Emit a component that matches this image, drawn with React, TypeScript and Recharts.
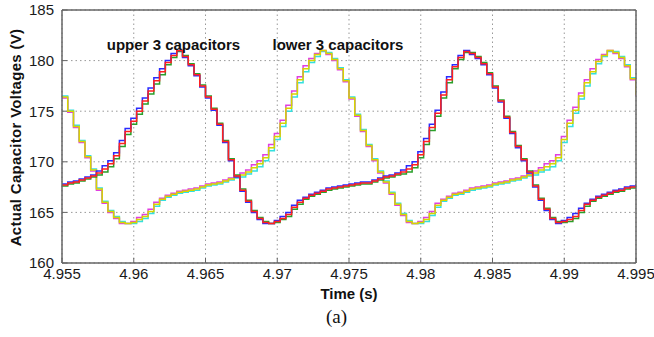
import React from "react";
import { LineChart, Line, XAxis, YAxis, CartesianGrid, ReferenceDot, Label } from "recharts";

// sample times (s)
const time = [
  4.955, 4.9554, 4.9558, 4.9562, 4.9566, 4.957, 4.9574, 4.9578, 4.9582, 4.9586,
  4.959, 4.9594, 4.9598, 4.9602, 4.9606, 4.961, 4.9614, 4.9618, 4.9622, 4.9626,
  4.963, 4.9634, 4.9638, 4.9642, 4.9646, 4.965, 4.9654, 4.9658, 4.9662, 4.9666,
  4.967, 4.9674, 4.9678, 4.9682, 4.9686, 4.969, 4.9694, 4.9698, 4.9702, 4.9706,
  4.971, 4.9714, 4.9718, 4.9722, 4.9726, 4.973, 4.9734, 4.9738, 4.9742, 4.9746,
  4.975, 4.9754, 4.9758, 4.9762, 4.9766, 4.977, 4.9774, 4.9778, 4.9782, 4.9786,
  4.979, 4.9794, 4.9798, 4.9802, 4.9806, 4.981, 4.9814, 4.9818, 4.9822, 4.9826,
  4.983, 4.9834, 4.9838, 4.9842, 4.9846, 4.985, 4.9854, 4.9858, 4.9862, 4.9866,
  4.987, 4.9874, 4.9878, 4.9882, 4.9886, 4.989, 4.9894, 4.9898, 4.9902, 4.9906,
  4.991, 4.9914, 4.9918, 4.9922, 4.9926, 4.993, 4.9934, 4.9938, 4.9942, 4.9946,
  4.995,
];

// upper 3 capacitors (V)
const upperRed = [
  167.7, 167.9, 168.0, 168.2, 168.4, 168.6, 168.9, 169.3, 169.8, 170.6,
  171.8, 173.0, 174.0, 175.0, 176.0, 177.0, 178.0, 178.9, 179.8, 180.5,
  181.0, 180.4, 179.6, 178.6, 177.5, 176.4, 175.2, 173.7, 172.0, 170.2,
  168.6, 167.2, 166.1, 165.1, 164.4, 164.0, 163.9, 164.1, 164.4, 164.8,
  165.5, 166.0, 166.4, 166.7, 166.9, 167.1, 167.3, 167.4, 167.5, 167.6,
  167.7, 167.8, 167.9, 167.9, 168.1, 168.3, 168.5, 168.6, 168.8, 169.0,
  169.3, 169.7, 170.7, 172.0, 173.4, 174.8, 176.6, 178.1, 179.4, 180.3,
  180.9, 180.7, 180.3, 179.7, 178.7, 177.4, 176.0, 174.4, 172.9, 171.5,
  170.2, 169.0, 167.6, 166.3, 165.3, 164.4, 164.0, 164.1, 164.3, 164.6,
  165.2, 165.8, 166.2, 166.5, 166.7, 166.9, 167.1, 167.2, 167.4, 167.5,
  167.7,
];
const upperBlue = [
  167.8, 168.0, 168.1, 168.3, 168.5, 168.7, 169.1, 169.6, 170.1, 170.9,
  172.1, 173.3, 174.3, 175.3, 176.3, 177.3, 178.3, 179.2, 180.0, 180.7,
  181.0, 180.3, 179.5, 178.5, 177.4, 176.3, 175.1, 173.6, 171.9, 170.1,
  168.5, 167.1, 166.0, 165.0, 164.3, 163.9, 163.9, 164.2, 164.6, 165.0,
  165.7, 166.2, 166.5, 166.8, 167.0, 167.2, 167.4, 167.5, 167.6, 167.7,
  167.8, 167.9, 168.0, 168.0, 168.2, 168.4, 168.6, 168.7, 168.9, 169.2,
  169.6, 170.0, 171.0, 172.3, 173.7, 175.1, 176.9, 178.4, 179.6, 180.5,
  181.0, 180.6, 180.2, 179.6, 178.6, 177.3, 175.9, 174.3, 172.8, 171.4,
  170.1, 168.9, 167.5, 166.2, 165.2, 164.3, 163.9, 164.2, 164.5, 164.9,
  165.4, 165.9, 166.3, 166.6, 166.8, 167.0, 167.2, 167.3, 167.5, 167.6,
  167.8,
];
const upperGreen = [
  167.6, 167.8, 167.9, 168.1, 168.3, 168.5, 168.7, 169.0, 169.5, 170.3,
  171.5, 172.7, 173.7, 174.7, 175.7, 176.7, 177.7, 178.6, 179.6, 180.3,
  180.9, 180.5, 179.7, 178.7, 177.6, 176.5, 175.3, 173.8, 172.1, 170.3,
  168.7, 167.3, 166.2, 165.2, 164.5, 164.1, 163.9, 164.0, 164.3, 164.6,
  165.3, 165.8, 166.3, 166.6, 166.8, 167.0, 167.2, 167.3, 167.4, 167.5,
  167.6, 167.7, 167.8, 167.8, 168.0, 168.2, 168.4, 168.5, 168.7, 168.8,
  169.0, 169.4, 170.4, 171.7, 173.1, 174.5, 176.3, 177.8, 179.2, 180.1,
  180.8, 180.8, 180.4, 179.8, 178.8, 177.5, 176.1, 174.5, 173.0, 171.6,
  170.3, 169.1, 167.7, 166.4, 165.4, 164.5, 164.1, 164.0, 164.1, 164.4,
  165.0, 165.6, 166.1, 166.4, 166.6, 166.8, 167.0, 167.1, 167.3, 167.4,
  167.6,
];

// lower 3 capacitors (V)
const lowerYellow = [
  176.4, 175.0, 173.5, 172.0, 170.5, 169.2, 167.3, 166.0, 165.1, 164.5,
  164.0, 163.9, 164.0, 164.3, 164.6, 165.1, 165.8, 166.3, 166.6, 166.8,
  167.0, 167.1, 167.2, 167.3, 167.5, 167.7, 167.8, 167.9, 168.1, 168.3,
  168.5, 168.7, 169.0, 169.4, 169.8, 170.4, 171.4, 172.5, 173.8, 175.3,
  176.7, 178.1, 179.2, 180.0, 180.6, 181.0, 180.7, 180.1, 179.2, 178.0,
  176.3, 174.6, 173.1, 171.6, 170.2, 169.0, 168.0, 166.9, 165.8, 164.8,
  164.1, 163.9, 164.0, 164.3, 164.9, 165.7, 166.2, 166.5, 166.8, 166.9,
  167.1, 167.3, 167.4, 167.5, 167.6, 167.8, 167.9, 168.0, 168.2, 168.3,
  168.5, 168.7, 168.9, 169.2, 169.5, 169.8, 170.4, 172.2, 173.8, 175.1,
  176.5, 177.8, 178.9, 179.9, 180.5, 181.0, 180.8, 180.3, 179.5, 178.2,
  176.6,
];
const lowerMagenta = [
  176.3, 174.9, 173.4, 171.9, 170.4, 169.1, 167.2, 165.9, 165.0, 164.4,
  163.9, 163.9, 164.1, 164.5, 164.8, 165.3, 166.0, 166.4, 166.7, 166.9,
  167.1, 167.2, 167.3, 167.4, 167.6, 167.8, 167.9, 168.0, 168.2, 168.4,
  168.6, 168.9, 169.2, 169.7, 170.1, 170.7, 171.7, 172.8, 174.1, 175.6,
  177.0, 178.4, 179.5, 180.2, 180.7, 181.0, 180.6, 180.0, 179.1, 177.9,
  176.2, 174.5, 173.0, 171.5, 170.1, 168.9, 167.9, 166.8, 165.7, 164.7,
  164.0, 163.9, 164.1, 164.5, 165.1, 165.9, 166.3, 166.6, 166.9, 167.0,
  167.2, 167.4, 167.5, 167.6, 167.7, 167.9, 168.0, 168.1, 168.3, 168.4,
  168.6, 168.8, 169.1, 169.4, 169.8, 170.1, 170.7, 172.5, 174.1, 175.4,
  176.8, 178.1, 179.2, 180.1, 180.6, 181.0, 180.7, 180.2, 179.4, 178.1,
  176.5,
];
const lowerCyan = [
  176.5, 175.1, 173.6, 172.1, 170.6, 169.3, 167.4, 166.1, 165.2, 164.6,
  164.1, 163.9, 163.9, 164.1, 164.4, 164.9, 165.6, 166.2, 166.5, 166.7,
  166.9, 167.0, 167.1, 167.2, 167.4, 167.6, 167.7, 167.8, 168.0, 168.2,
  168.4, 168.5, 168.8, 169.1, 169.5, 170.1, 171.1, 172.2, 173.5, 175.0,
  176.4, 177.8, 178.9, 179.8, 180.4, 180.9, 180.8, 180.2, 179.3, 178.1,
  176.4, 174.7, 173.2, 171.7, 170.3, 169.1, 168.1, 167.0, 165.9, 164.9,
  164.2, 163.9, 163.9, 164.1, 164.7, 165.5, 166.1, 166.4, 166.7, 166.8,
  167.0, 167.2, 167.3, 167.4, 167.5, 167.7, 167.8, 167.9, 168.1, 168.2,
  168.4, 168.6, 168.7, 169.0, 169.2, 169.5, 170.1, 171.9, 173.5, 174.8,
  176.2, 177.5, 178.7, 179.7, 180.4, 180.9, 180.9, 180.4, 179.6, 178.3,
  176.7,
];

const xTicks = [4.955, 4.96, 4.965, 4.97, 4.975, 4.98, 4.985, 4.99, 4.995];
const xTickLabels = ["4.955", "4.96", "4.965", "4.97", "4.975", "4.98", "4.985", "4.99", "4.995"];
const yTicks = [160, 165, 170, 175, 180, 185];

const xDomain: [number, number] = [4.955, 4.995];
const yDomain: [number, number] = [160, 185];

const rows = time.map((t, i) => ({
  t,
  upperRed: upperRed[i],
  upperBlue: upperBlue[i],
  upperGreen: upperGreen[i],
  lowerYellow: lowerYellow[i],
  lowerMagenta: lowerMagenta[i],
  lowerCyan: lowerCyan[i],
}));

const FONT = "'Liberation Sans', Arial, Helvetica, sans-serif";
const axisLine = { stroke: "#666", strokeWidth: 1.5 };
const tickLine = { stroke: "#666", strokeWidth: 1 };

const formatX = (v: number) => {
  const i = xTicks.findIndex((x) => Math.abs(x - v) < 1e-9);
  return i >= 0 ? xTickLabels[i] : String(v);
};

const YLabel = (props: any) => {
  const vb = props.viewBox || { x: 0, y: 0, width: 0, height: 0 };
  const cx = vb.x + 15;
  const cy = vb.y + vb.height / 2 + 1;
  return (
    <text
      x={cx}
      y={cy}
      textAnchor="middle"
      dominantBaseline="central"
      transform={`rotate(-90 ${cx} ${cy})`}
      fontFamily={FONT}
      fontSize={15}
      fontWeight="bold"
      letterSpacing={0.3}
      fill="#111"
    >
      Actual Capacitor Voltages (V)
    </text>
  );
};

export default function App() {
  const lineProps = {
    type: "stepAfter" as const,
    dot: false,
    strokeWidth: 1.5,
    isAnimationActive: false,
  };
  return (
    <div style={{ position: "absolute", left: 0, top: 0, width: 654, height: 337, background: "#fff" }}>
      <LineChart width={654} height={337} data={rows} margin={{ top: 9, right: 17, bottom: 0, left: 0 }}>
        <CartesianGrid stroke="#999" strokeDasharray="1.5 3" />
        <XAxis
          dataKey="t"
          type="number"
          domain={xDomain}
          ticks={xTicks}
          interval={0}
          tickFormatter={formatX}
          height={74}
          axisLine={axisLine}
          tickLine={tickLine}
          tickSize={-5}
          tickMargin={10}
          tick={{ fontFamily: FONT, fontSize: 15, fill: "#1a1a1a" }}
          allowDataOverflow
        >
          <Label
            value="Time (s)"
            position="insideTop"
            offset={25}
            fontFamily={FONT}
            fontSize={15}
            fontWeight="bold"
            fill="#111"
          />
        </XAxis>
        <XAxis
          xAxisId="top"
          orientation="top"
          dataKey="t"
          type="number"
          domain={xDomain}
          ticks={xTicks}
          interval={0}
          height={1}
          axisLine={axisLine}
          tickLine={tickLine}
          tickSize={-5}
          tick={false}
          allowDataOverflow
        />
        <YAxis
          type="number"
          domain={yDomain}
          ticks={yTicks}
          interval={0}
          width={62}
          axisLine={axisLine}
          tickLine={tickLine}
          tickSize={-5}
          tickMargin={13}
          tick={{ fontFamily: FONT, fontSize: 15, fill: "#1a1a1a" }}
          allowDataOverflow
          label={{ content: YLabel }}
        />
        <YAxis
          yAxisId="right"
          orientation="right"
          type="number"
          domain={yDomain}
          ticks={yTicks}
          interval={0}
          width={1}
          axisLine={axisLine}
          tickLine={tickLine}
          tickSize={-5}
          tick={false}
          allowDataOverflow
        />
        <Line {...lineProps} dataKey="lowerCyan" stroke="#33e0e0" />
        <Line {...lineProps} dataKey="lowerMagenta" stroke="#e040e0" />
        <Line {...lineProps} dataKey="lowerYellow" stroke="#d8d400" />
        <Line {...lineProps} dataKey="upperGreen" stroke="#2aa02a" />
        <Line {...lineProps} dataKey="upperBlue" stroke="#2a2aff" />
        <Line {...lineProps} dataKey="upperRed" stroke="#ff2020" />
        <ReferenceDot x={4.96277} y={181.6} r={0} fill="none" stroke="none" ifOverflow="visible">
          <Label value="upper 3 capacitors" position="center" fontFamily={FONT} fontSize={15} fontWeight="bold" fill="#111" />
        </ReferenceDot>
        <ReferenceDot x={4.97423} y={181.6} r={0} fill="none" stroke="none" ifOverflow="visible">
          <Label value="lower 3 capacitors" position="center" fontFamily={FONT} fontSize={15} fontWeight="bold" fill="#111" />
        </ReferenceDot>
      </LineChart>
      <div
        style={{
          position: "absolute",
          left: 326,
          top: 307,
          fontFamily: "'Liberation Serif', 'Times New Roman', serif",
          fontSize: 19,
          lineHeight: "20px",
          color: "#111",
          whiteSpace: "nowrap",
        }}
      >
        (a)
      </div>
    </div>
  );
}
